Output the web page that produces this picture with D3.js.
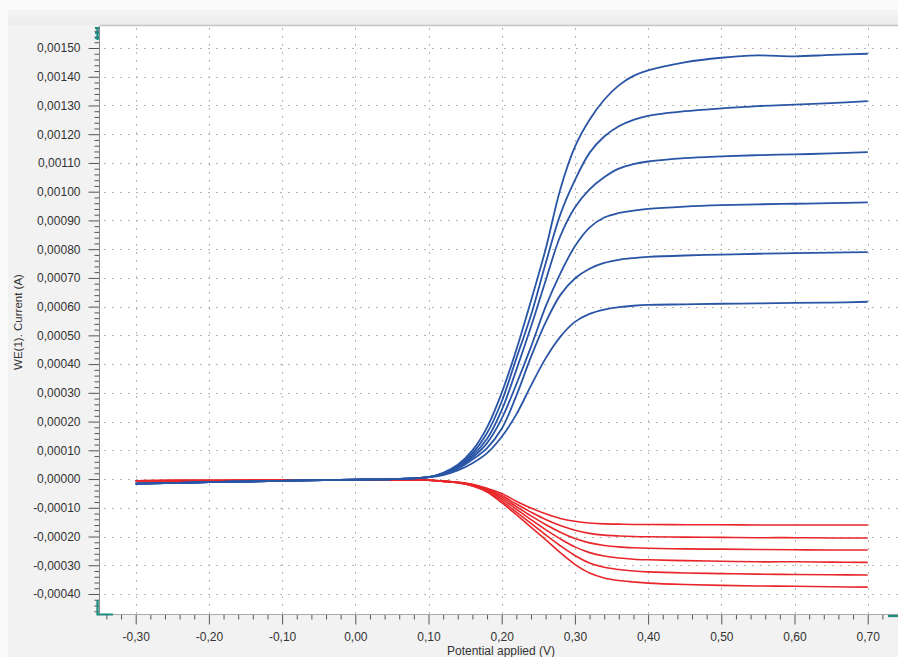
<!DOCTYPE html>
<html><head><meta charset="utf-8">
<script src="https://cdn.jsdelivr.net/npm/d3@7"></script>
<style>html,body{margin:0;padding:0;background:#fff;}svg{display:block;}</style>
</head><body>
<svg id="chart" width="898" height="657"></svg>
<script>
// Potential applied (V) at which each curve value was read
const potential = [-0.30,-0.20,-0.10,0.00,0.05,0.10,0.12,0.14,0.16,0.18,0.20,0.22,0.24,0.26,0.28,0.30,0.32,0.34,0.36,0.38,0.40,0.45,0.50,0.55,0.60,0.65,0.70];

// Current values in microamperes (µA)
const blue1 = [-16,-11,-6,-2,0,7,22,50,100,180,300,450,620,800,1008,1156,1250,1320,1370,1403,1422,1450,1466,1474,1471,1476,1480];
const blue2 = [-16,-11,-6,-2,0,7,20,47,90,160,270,420,570,750,920,1040,1135,1192,1228,1250,1264,1280,1290,1298,1303,1308,1315];
const blue3 = [-16,-11,-6,-2,0,7,19,44,82,140,240,380,530,690,845,945,1008,1050,1080,1096,1105,1117,1123,1127,1130,1133,1138];
const blue4 = [-16,-11,-6,-2,0,7,18,40,75,125,210,330,460,600,715,810,875,910,926,934,940,948,953,956,958,960,963];
const blue5 = [-16,-11,-6,-2,0,7,16,36,68,108,175,290,425,545,640,698,732,752,763,769,773,778,781,784,786,788,790];
const blue6 = [-16,-11,-6,-2,0,6,14,30,55,90,147,225,325,420,495,547,575,590,598,603,606,608,610,611,613,614,617];

const red1 = [-6,-5,-4,-3,-3,-4,-7,-11,-18,-32,-50,-77,-101,-121,-137,-147,-153,-156,-157,-158,-158,-159,-159,-160,-160,-160,-160];
const red2 = [-6,-5,-4,-3,-3,-4,-7,-11,-19,-35,-57,-87,-115,-141,-162,-178,-189,-195,-198,-200,-201,-202,-203,-204,-204,-205,-205];
const red3 = [-6,-5,-4,-3,-3,-4,-7,-12,-20,-37,-63,-96,-128,-158,-185,-207,-222,-231,-236,-239,-241,-243,-244,-245,-246,-247,-247];
const red4 = [-6,-5,-4,-3,-3,-4,-8,-12,-22,-40,-69,-105,-141,-176,-208,-236,-256,-268,-275,-279,-281,-284,-286,-288,-288,-289,-290];
const red5 = [-6,-5,-4,-3,-3,-4,-8,-13,-23,-43,-76,-115,-154,-194,-232,-266,-292,-307,-315,-320,-323,-327,-329,-331,-332,-333,-334];
const red6 = [-6,-5,-4,-3,-3,-4,-8,-13,-24,-45,-82,-124,-167,-211,-256,-297,-327,-344,-353,-358,-362,-367,-370,-372,-373,-375,-376];

const yTickValues = [-400,-300,-200,-100,0,100,200,300,400,500,600,700,800,900,1000,1100,1200,1300,1400,1500];
const xTickValues = [-0.30,-0.20,-0.10,0.00,0.10,0.20,0.30,0.40,0.50,0.60,0.70];
const xLabel = "Potential applied (V)";
const yLabel = "WE(1). Current (A)";

const svg = d3.select("#chart");
const W = 898, H = 657;
const P = {left:100, top:26, right:898, bottom:614};
const FONT = "'Liberation Sans', Arial, sans-serif";

const x = d3.scaleLinear().domain([-0.30, 0.70]).range([135.7, 867.7]);
const y = d3.scaleLinear().domain([-400, 1500]).range([594, 48]);

const loc = d3.formatLocale({decimal:",", thousands:".", grouping:[3], currency:["",""], minus:"-"});
const fy = loc.format(".5f"), fx = loc.format(".2f");

// background
const defs = svg.append("defs");
const g1 = defs.append("linearGradient").attr("id","topg").attr("x1",0).attr("y1",0).attr("x2",0).attr("y2",1);
g1.append("stop").attr("offset","0%").attr("stop-color","#fbfbfb");
g1.append("stop").attr("offset","100%").attr("stop-color","#ececec");
svg.append("rect").attr("width",W).attr("height",H).attr("fill","#f2f2f2");
svg.append("rect").attr("x",0).attr("y",0).attr("width",W).attr("height",25).attr("fill","url(#topg)");
svg.append("rect").attr("x",0).attr("y",0).attr("width",8).attr("height",H).attr("fill","#fafafa");
svg.append("rect").attr("x",0).attr("y",0).attr("width",W).attr("height",9).attr("fill","#fafafa");

// plot area
svg.append("rect").attr("x",P.left).attr("y",P.top).attr("width",P.right-P.left).attr("height",P.bottom-P.top).attr("fill","#fff");
svg.append("line").attr("x1",P.left).attr("x2",P.right).attr("y1",25.5).attr("y2",25.5).attr("stroke","#c4c4c4").attr("stroke-width",1.5);

// grid
const grid = svg.append("g").attr("stroke","#b5b5b5").attr("stroke-width",1).attr("stroke-dasharray","2,6");
grid.selectAll("line.h").data(yTickValues).join("line").attr("class","h")
  .attr("x1",P.left+4).attr("x2",P.right).attr("y1",d=>Math.round(y(d))+0.5).attr("y2",d=>Math.round(y(d))+0.5);
grid.selectAll("line.v").data(xTickValues).join("line").attr("class","v")
  .attr("x1",d=>Math.round(x(d))+0.5).attr("x2",d=>Math.round(x(d))+0.5).attr("y1",P.top+2).attr("y2",P.bottom);

// y axis
const yAxisG = svg.append("g").attr("transform",`translate(${P.left-0.5},0)`);
yAxisG.call(d3.axisLeft(y).tickValues(yTickValues).tickSize(11).tickPadding(8).tickFormat(d=>fy(d/1e6)));
const yMinor = d3.range(-460, 1561, 20).filter(v => v % 100 !== 0);
const yMinorG = svg.append("g").attr("transform",`translate(${P.left-0.5},0)`);
yMinorG.call(d3.axisLeft(y).tickValues(yMinor).tickSize(5).tickFormat(""));
[yAxisG, yMinorG].forEach(g => { g.select(".domain").remove(); g.selectAll("line").attr("stroke","#555"); });
yAxisG.selectAll("text").attr("font-family",FONT).attr("font-size",12).attr("fill","#333");

// x axis
const xAxisG = svg.append("g").attr("transform",`translate(0,${P.bottom+0.5})`);
xAxisG.call(d3.axisBottom(x).tickValues(xTickValues).tickSize(10).tickPadding(8).tickFormat(d=>fx(d)));
const xMinor = d3.range(-34, 73, 2).filter(v => v % 10 !== 0).map(v => v/100);
const xMinorG = svg.append("g").attr("transform",`translate(0,${P.bottom+0.5})`);
xMinorG.call(d3.axisBottom(x).tickValues(xMinor).tickSize(5).tickFormat(""));
[xAxisG, xMinorG].forEach(g => { g.select(".domain").remove(); g.selectAll("line").attr("stroke","#555"); });
xAxisG.selectAll("text").attr("font-family",FONT).attr("font-size",12).attr("fill","#333");

// axis lines
svg.append("line").attr("x1",P.left-0.5).attr("x2",P.left-0.5).attr("y1",P.top).attr("y2",P.bottom+1).attr("stroke","#888");
svg.append("line").attr("x1",P.left).attr("x2",P.right).attr("y1",P.bottom+0.5).attr("y2",P.bottom+0.5).attr("stroke","#aaa");

// teal handles
const teal = "#1c8a80";
svg.append("path").attr("d","M97.5,27 V40 M95,28 H99 M95,33 H99 M95,38 H99").attr("stroke",teal).attr("stroke-width",2.2).attr("fill","none");
svg.append("path").attr("d","M97.5,600 V614.5 H113").attr("stroke",teal).attr("stroke-width",2.2).attr("fill","none");
svg.append("line").attr("x1",888).attr("x2",898).attr("y1",616).attr("y2",616).attr("stroke",teal).attr("stroke-width",2.2);

// curves
const line = d3.line().x((d,i)=>x(potential[i])).y(d=>y(d)).curve(d3.curveCatmullRom.alpha(0.5));
const reds = [red1, red2, red3, red4, red5, red6];
const blues = [blue1, blue2, blue3, blue4, blue5, blue6];
svg.append("g").selectAll("path").data(reds).join("path")
  .attr("d", line).attr("fill","none").attr("stroke","#e8262a").attr("stroke-width",1.6).attr("stroke-linejoin","round");
svg.append("g").selectAll("path").data(blues).join("path")
  .attr("d", line).attr("fill","none").attr("stroke","#2a55a6").attr("stroke-width",1.8).attr("stroke-linejoin","round");

// axis titles
svg.append("text").attr("x",501).attr("y",655).attr("text-anchor","middle")
  .attr("font-family",FONT).attr("font-size",12).attr("fill","#333").text(xLabel);
svg.append("text").attr("transform","translate(22,322) rotate(-90)").attr("text-anchor","middle")
  .attr("font-family",FONT).attr("font-size",11.5).attr("fill","#333").text(yLabel);
</script>
</body></html>
